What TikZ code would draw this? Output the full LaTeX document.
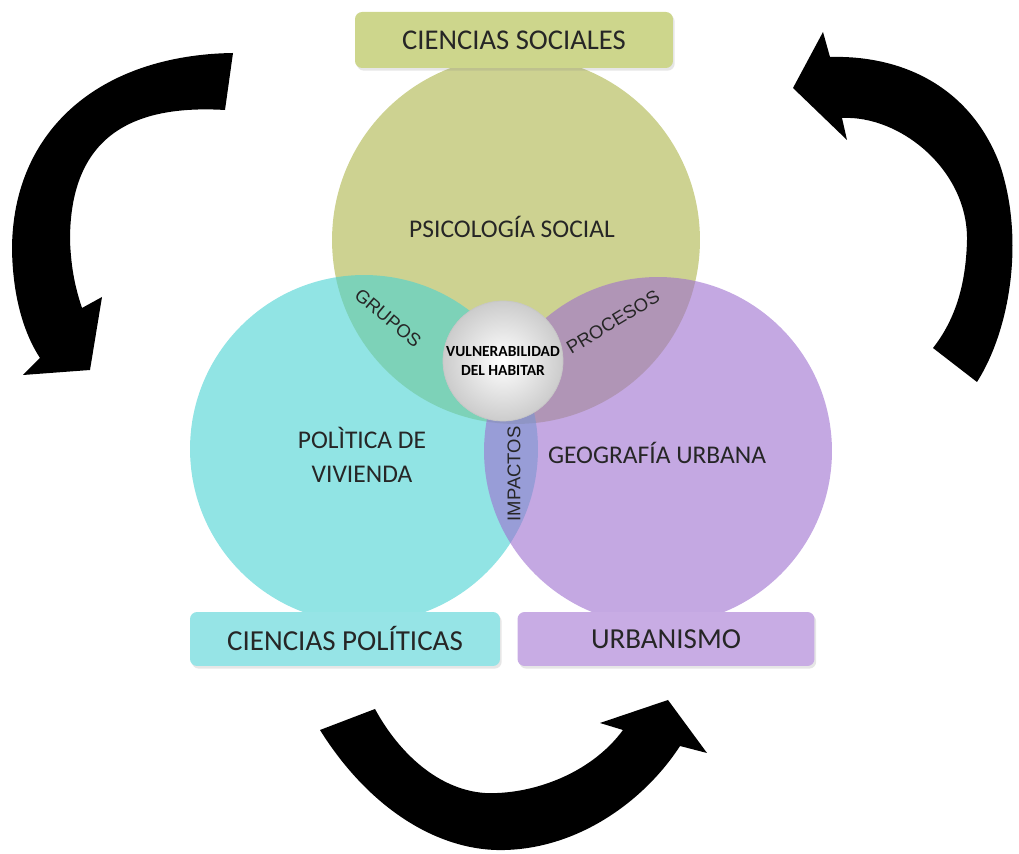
\documentclass[tikz,border=0pt]{standalone}
\usepackage{fontspec}
\setmainfont{Carlito}
\newfontfamily\lensfont{Liberation Sans}
\usetikzlibrary{shadows,positioning}

\definecolor{socialc}{RGB}{172,180,72}
\definecolor{politc}{RGB}{72,210,210}
\definecolor{urbanc}{RGB}{157,110,207}
\definecolor{socialbox}{RGB}{205,214,140}
\definecolor{politbox}{RGB}{150,228,230}
\definecolor{urbanbox}{RGB}{200,172,228}

\begin{document}
\begin{tikzpicture}[
    x=0.02cm, y=-0.02cm,
    area/.style={circle, fill opacity=0.6, inner sep=0pt},
    field/.style={rectangle, rounded corners=4pt, inner sep=0pt, text=black!85,
        drop shadow={shadow xshift=1pt, shadow yshift=-1.5pt, opacity=0.2}},
    inlabel/.style={align=center, text=black!85, font=\fontsize{14.5}{19}\selectfont},
    lens/.style={text=black!85, font=\lensfont\fontsize{10.5}{12}\selectfont},
    bigarrow/.style={fill=black}
]
\useasboundingbox (0,0) rectangle (1019,854);

% Three overlapping areas
\node[area, fill=socialc, minimum size=7.36cm] (psico) at (516,240) {};
\node[area, fill=politc, minimum size=6.96cm] (poli) at (364,449) {};
\node[area, fill=urbanc, minimum size=6.96cm] (geo) at (658,451) {};

% Field boxes
\node[field, fill=socialbox, minimum width=6.36cm, minimum height=1.12cm,
      font=\fontsize{16.3}{19}\selectfont] (sociales) at (514,40) {CIENCIAS SOCIALES};
\node[field, fill=politbox, minimum width=6.2cm, minimum height=1.08cm,
      font=\fontsize{16.5}{19}\selectfont] (politicas) at (345,639) {CIENCIAS POLÍTICAS};
\node[field, fill=urbanbox, minimum width=5.94cm, minimum height=1.08cm,
      font=\fontsize{16.5}{19}\selectfont] (urbanismo) at (666,639) {URBANISMO};

% Labels inside the areas
\node[inlabel] (psicotxt) at (512,227) {PSICOLOGÍA SOCIAL};
\node[inlabel] (politxt) at (362,455) {POLÌTICA DE\\VIVIENDA};
\node[inlabel] (geotxt) at (657,453) {GEOGRAFÍA URBANA};

% Labels on the overlaps
\node[lens, rotate=-40] (grupos) at (388,318) {GRUPOS};
\node[lens, rotate=31] (procesos) at (613,322) {PROCESOS};
\node[lens, rotate=90] (impactos) at (514,474) {IMPACTOS};

% Centre
\node[circle, minimum size=2.4cm, inner sep=0pt, draw=black!22,
      inner color=white, outer color=black!20, align=center,
      font=\bfseries\fontsize{8.8}{11}\selectfont] (vulner) at (503,361)
      {VULNERABILIDAD\\DEL HABITAR};

% Curved arrows round the diagram
\fill[bigarrow] (233,53) .. controls (100,55) and (12,130) .. (12,250)
    .. controls (13,300) and (25,335) .. (40,358)
    -- (23,375) -- (90,370) -- (102,297) -- (82,308)
    .. controls (76,290) and (71,270) .. (70,240)
    .. controls (70,130) and (140,105) .. (225,110) -- cycle;
\fill[bigarrow] (977,382) .. controls (1010,330) and (1025,240) .. (1000,165)
    .. controls (970,85) and (900,55) .. (830,57)
    -- (823,32) -- (793,88) -- (847,140) -- (842,118)
    .. controls (900,115) and (968,170) .. (967,240)
    .. controls (966,285) and (955,320) .. (933,348) -- cycle;
\fill[bigarrow] (320,730) .. controls (370,810) and (440,852) .. (505,850)
    .. controls (580,848) and (645,800) .. (680,746)
    -- (707,753) -- (668,700) -- (600,723) -- (623,730)
    .. controls (590,775) and (530,795) .. (485,793)
    .. controls (440,790) and (400,755) .. (375,709) -- cycle;

\end{tikzpicture}
\end{document}
